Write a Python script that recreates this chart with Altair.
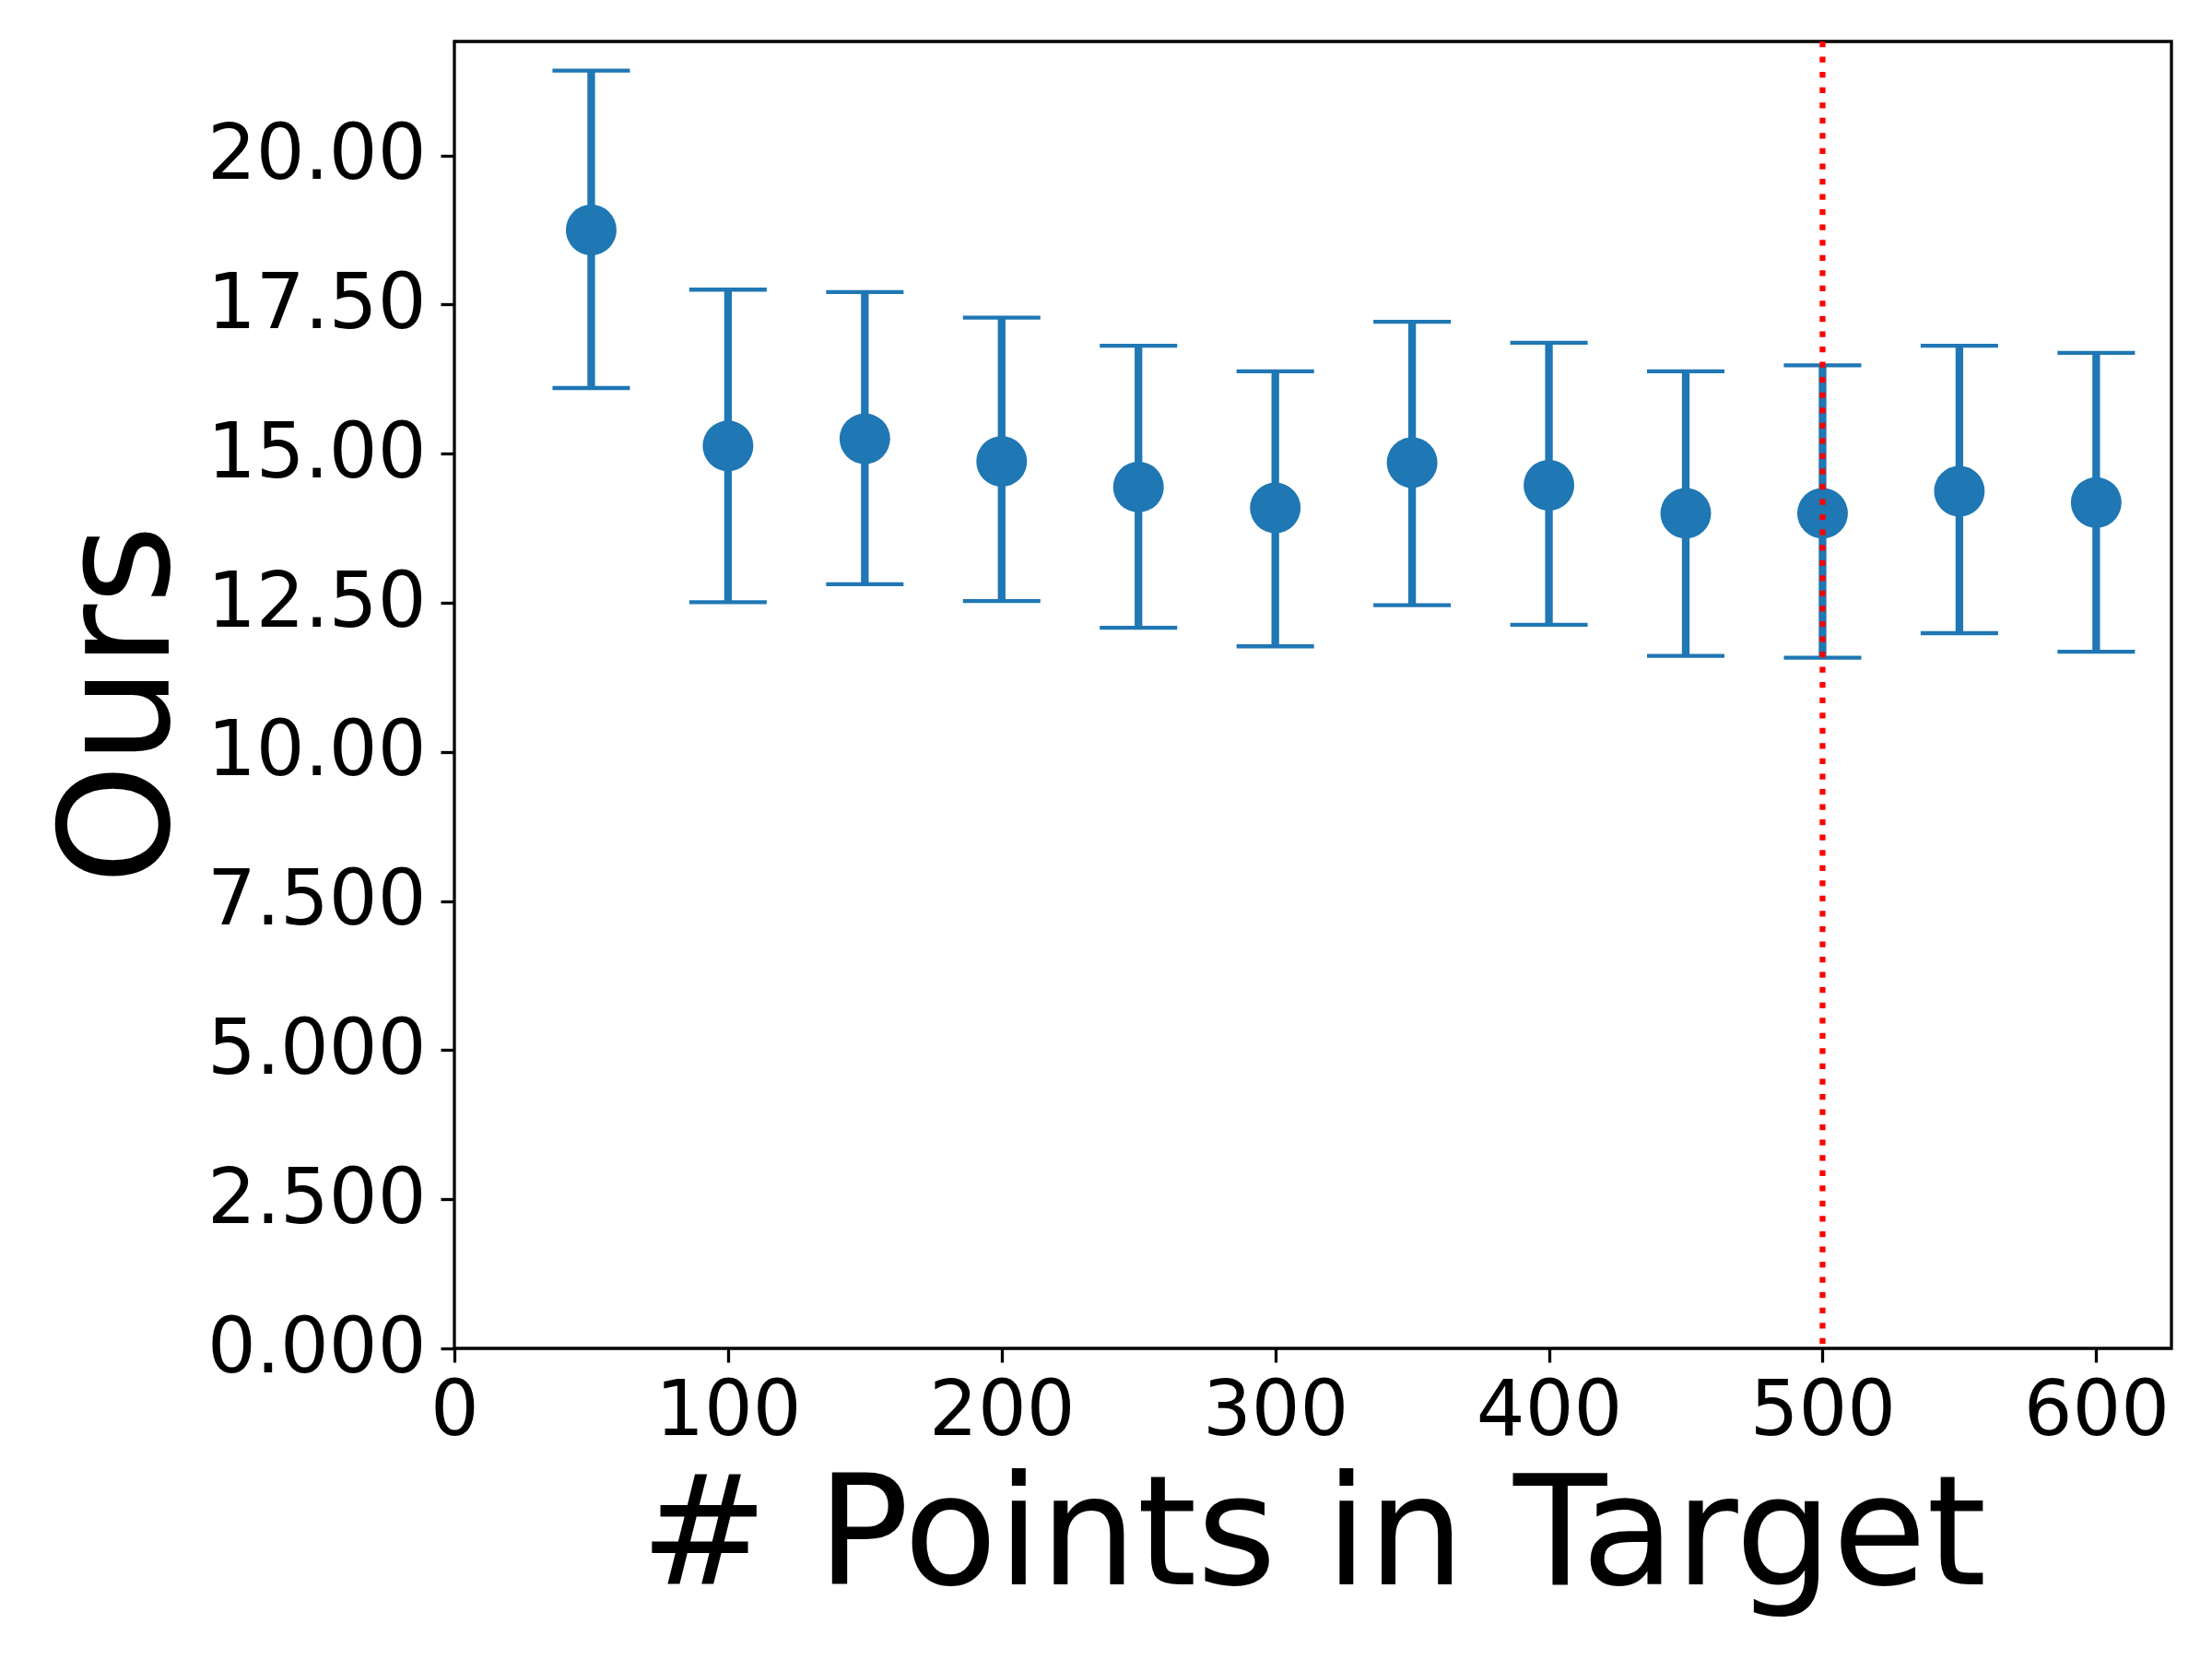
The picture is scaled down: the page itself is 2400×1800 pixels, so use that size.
import altair as alt
import pandas as pd

n_points = [50, 100, 150, 200, 250, 300, 350, 400, 450, 500, 550, 600]
mean_vals = [18.75, 15.13, 15.25, 14.87, 14.44, 14.09, 14.85, 14.47, 14.00, 14.00, 14.37, 14.18]
upper_vals = [21.42, 17.75, 17.71, 17.28, 16.81, 16.38, 17.21, 16.86, 16.38, 16.48, 16.81, 16.69]
lower_vals = [16.10, 12.51, 12.81, 12.53, 12.08, 11.77, 12.46, 12.13, 11.61, 11.58, 11.99, 11.68]
x_ticks = [0, 100, 200, 300, 400, 500, 600]
y_ticks = [0, 2.5, 5, 7.5, 10, 12.5, 15, 17.5, 20]
ref_x = 500

df = pd.DataFrame({"x": n_points, "mean": mean_vals, "lo": lower_vals, "hi": upper_vals})

BLUE = "#1f77b4"
FONT = "DejaVu Sans"
W, H = 1863, 1418

xscale = alt.Scale(domain=[0, 627.5], nice=False, zero=False)
yscale = alt.Scale(domain=[0, 21.91], nice=False, zero=False)

xaxis = alt.Axis(
    values=x_ticks, title="# Points in Target", grid=False, domain=False,
    tickColor="black", tickWidth=3.3, tickSize=15, labelPadding=12,
    labelFont=FONT, labelFontSize=83, labelColor="black", labelLimit=1000,
    titleFont=FONT, titleFontSize=166, titleFontWeight="normal", titleColor="black",
    titleX=W / 2, titleY=255, titleBaseline="alphabetic", titleAlign="center",
    labelFlush=False, labelOverlap=False,
)
yaxis = alt.Axis(
    values=y_ticks, title="Ours", grid=False, domain=False,
    tickColor="black", tickWidth=3.3, tickSize=15, labelPadding=16,
    labelFont=FONT, labelFontSize=83, labelColor="black", labelLimit=1000,
    labelExpr="datum.value < 10 ? format(datum.value, '.3f') : format(datum.value, '.2f')",
    titleFont=FONT, titleFontSize=166, titleFontWeight="normal", titleColor="black",
    titleX=-311, titleY=719, titleAngle=270, titleBaseline="alphabetic", titleAlign="center",
    labelFlush=False, labelOverlap=False,
)

base = alt.Chart(df)

stems = base.mark_rule(color=BLUE, strokeWidth=8.3, opacity=1).encode(
    x=alt.X("x:Q", scale=xscale, axis=xaxis),
    y=alt.Y("lo:Q", scale=yscale, axis=yaxis),
    y2="hi:Q",
)
caps_hi = base.mark_tick(color=BLUE, orient="horizontal", size=84, thickness=4.3, opacity=1).encode(
    x=alt.X("x:Q", scale=xscale), y=alt.Y("hi:Q", scale=yscale)
)
caps_lo = base.mark_tick(color=BLUE, orient="horizontal", size=84, thickness=4.3, opacity=1).encode(
    x=alt.X("x:Q", scale=xscale), y=alt.Y("lo:Q", scale=yscale)
)
dots = base.mark_circle(color=BLUE, opacity=1, size=3020).encode(
    x=alt.X("x:Q", scale=xscale), y=alt.Y("mean:Q", scale=yscale)
)
vline = alt.Chart(pd.DataFrame({"x": [ref_x]})).mark_rule(
    color="red", strokeWidth=6.25, strokeDash=[6.25, 10.3], strokeCap="butt", opacity=1
).encode(x=alt.X("x:Q", scale=xscale))

chart = alt.layer(stems, caps_hi, caps_lo, dots, vline).properties(
    width=W, height=H,
    background="white",
    autosize=alt.AutoSizeParams(type="none"),
    padding={"left": 485, "top": 37, "right": 20, "bottom": 300},
).configure_view(stroke="black", strokeWidth=3.3)

chart.save("out.html", embed_options={"renderer": "svg", "actions": False})
